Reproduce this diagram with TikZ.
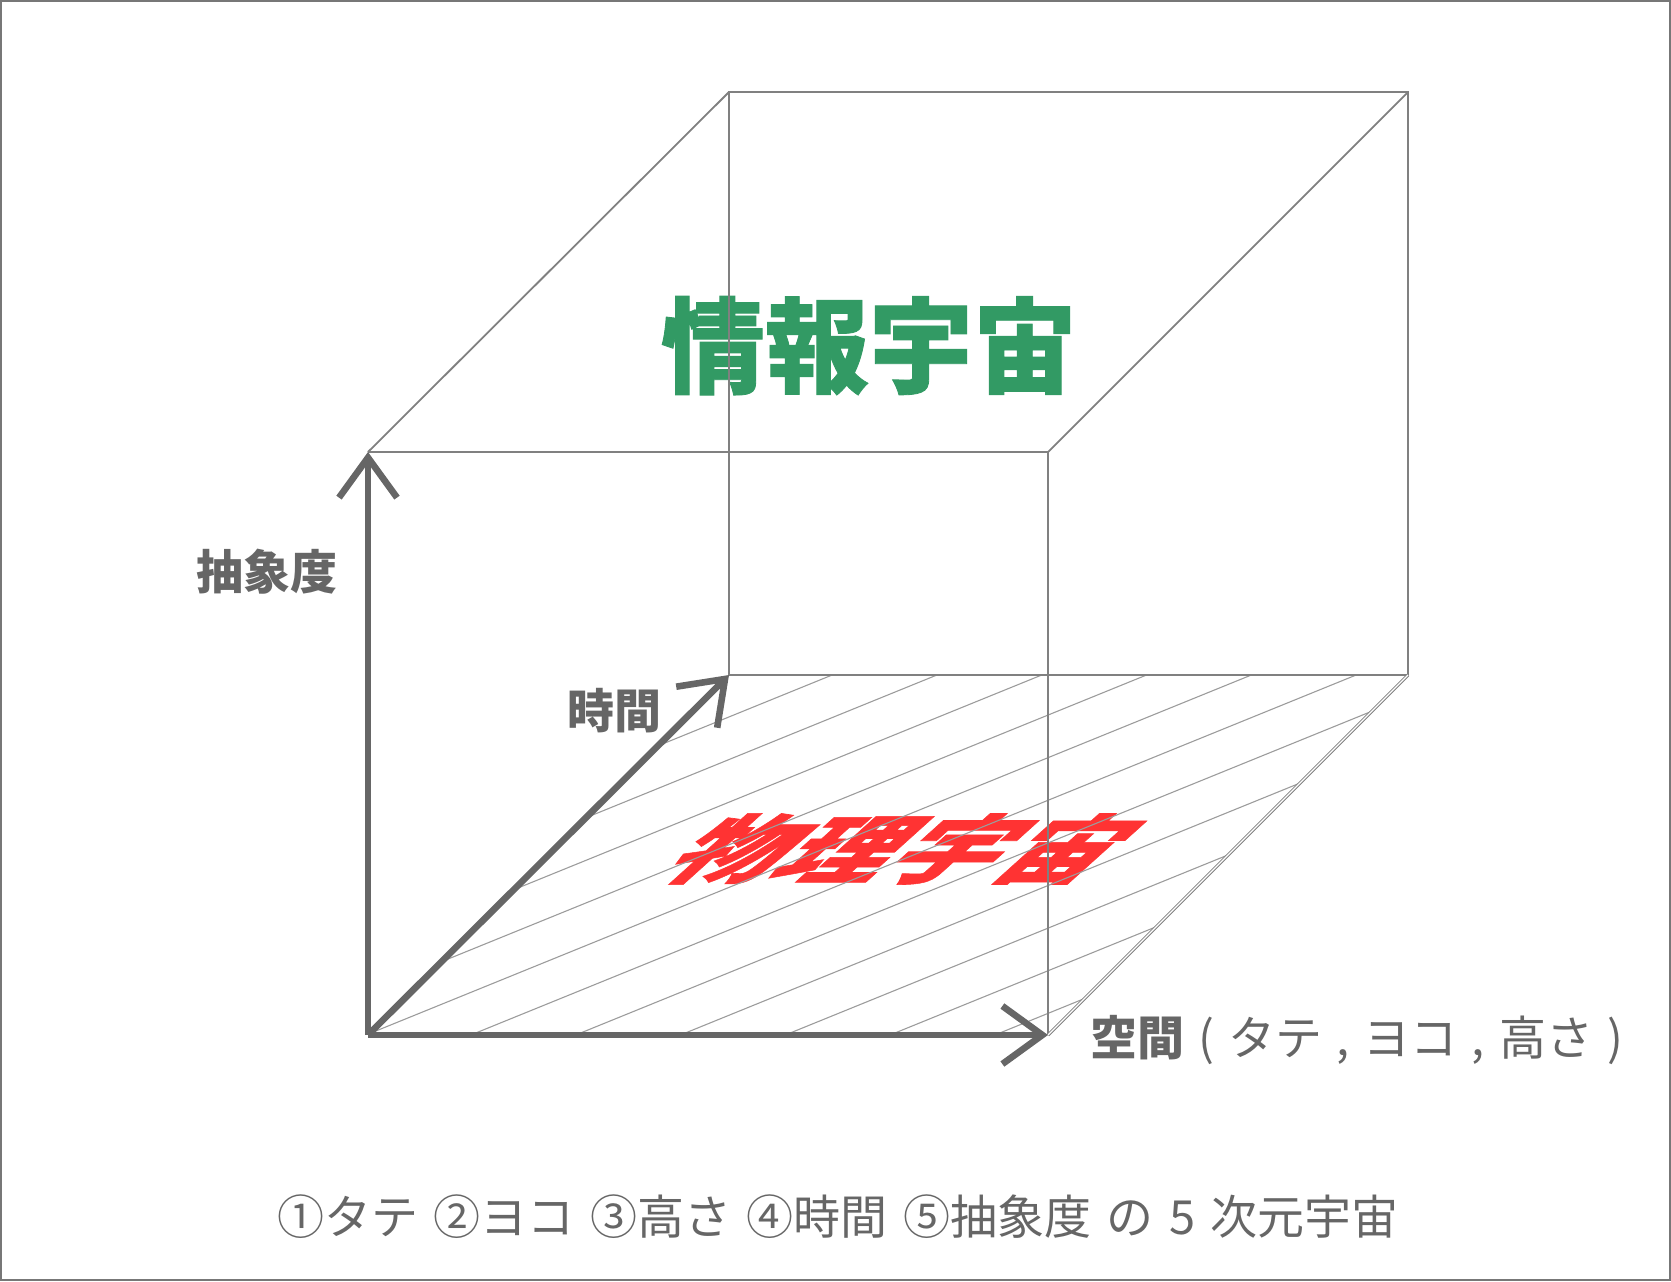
\documentclass[tikz,border=0pt]{standalone}
\usepackage{fontspec}
\setmainfont{Noto Sans CJK JP}
\newfontfamily\jp{Noto Sans CJK JP}
\newfontfamily\jpheavy{Noto Sans CJK JP}[FakeBold=0.8]
\usetikzlibrary{arrows.meta}
\definecolor{axisgray}{HTML}{666666}
\definecolor{edgegray}{HTML}{808080}
\definecolor{hatchgray}{HTML}{9C9C9C}
\definecolor{infogreen}{HTML}{329A64}
\definecolor{physred}{HTML}{FF3333}
\definecolor{textgray}{HTML}{666666}
\definecolor{framegray}{HTML}{777777}
\tikzset{
  edge/.style={draw=edgegray, line width=0.9pt},
  hatchline/.style={draw=hatchgray, line width=0.55pt},
  axis/.style={draw=axisgray, line width=3.3pt, -{Straight Barb[length=20pt, width=29pt, sharp]}},
  bigtext/.style={font=\jpheavy\bfseries\fontsize{52}{60}\selectfont, inner sep=0pt},
  axislabel/.style={font=\jp\bfseries\fontsize{23.5}{28}\selectfont, text=textgray, inner sep=0pt},
  plaintext/.style={font=\jp\fontsize{23.5}{28}\selectfont, text=textgray, inner sep=0pt},
}
\begin{document}
\begin{tikzpicture}[x=0.5pt,y=-0.5pt]
\useasboundingbox (0,0) rectangle (1671,1281);
\draw[draw=framegray, line width=1pt] (1,1) rectangle (1670,1280);

% cube corners
\coordinate (O) at (368,1035);
\coordinate (A) at (1048,1035);
\coordinate (FTL) at (368,452);
\coordinate (FTR) at (1048,452);
\coordinate (BL) at (729,675);
\coordinate (BR) at (1408,675);
\coordinate (BTL) at (729,92);
\coordinate (BTR) at (1408,92);

% titles
\node[bigtext, text=infogreen, anchor=base] (info) at (869,385) {情報宇宙};
\begin{scope}[shift={(905,849)}]
\node[bigtext, text=physred, cm={1.05,0,0.8,0.72,(0,0)}] (phys) at (0,0) {物理宇宙};
\end{scope}

% floor hatching
\begin{scope}
\clip (O) -- (A) -- (BR) -- (BL) -- cycle;
\foreach \k in {-4,...,6} {
  \draw[hatchline] ({366+104.8*\k},1035) -- ++(1100,-447.3);
}
\end{scope}

% cube edges
\draw[edge] (FTL) -- (FTR) -- (A);
\draw[edge] (BTL) -- (BTR) -- (BR) -- (BL) -- cycle;
\draw[edge] (FTL) -- (BTL);
\draw[edge] (FTR) -- (BTR);
\draw[draw=edgegray, line width=0.5pt, double=white, double distance=0.6pt] (A) -- (BR);

% axes
\draw[axis] (O) -- (FTL);
\draw[axis] (O) -- (A);
\draw[axis] (O) -- (BL);

% labels
\node[axislabel, anchor=base] (abst) at (267,589) {抽象度};
\node[axislabel, anchor=base] (time) at (614,728) {時間};
\node[axislabel, anchor=base west] (space) at (1090,1055) {空間\mdseries\spaceskip=0.3em\relax{} ( タテ , ヨコ , 高さ )};
\node[plaintext, anchor=base] (caption) at (838,1234) {\spaceskip=0.33em\relax ①タテ ②ヨコ ③高さ ④時間 ⑤抽象度 の 5 次元宇宙};
\end{tikzpicture}
\end{document}
